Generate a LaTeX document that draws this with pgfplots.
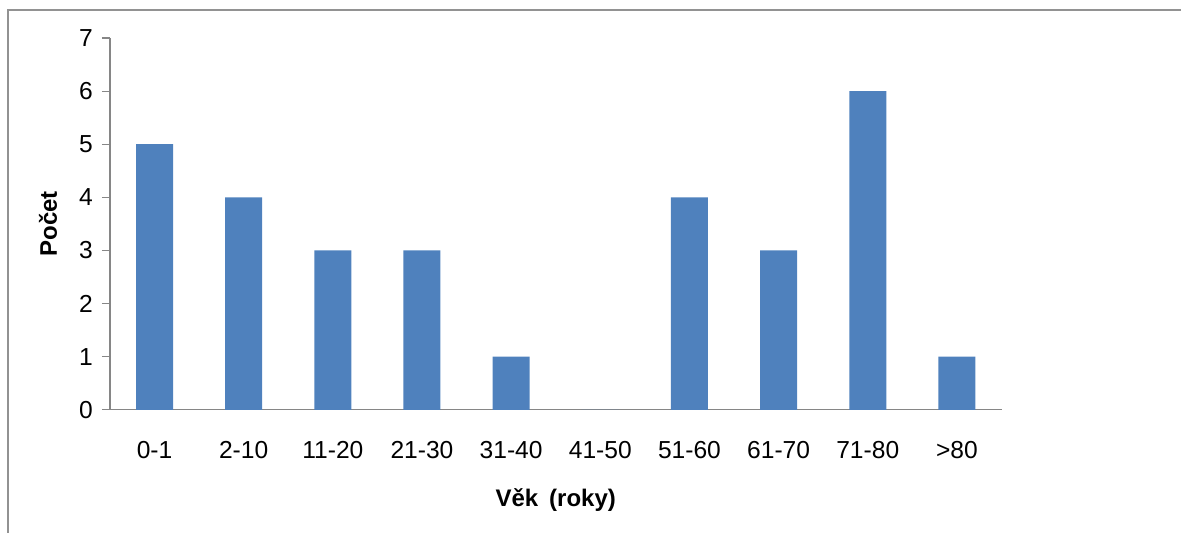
\documentclass[border=0pt]{standalone}
\usepackage{pgfplots}
\pgfplotsset{compat=1.18}
\usepackage{fontspec}
\setmainfont{Liberation Sans}
\definecolor{barblue}{HTML}{4F81BD}
\definecolor{axgray}{HTML}{868686}
\begin{document}
\begin{tikzpicture}
\path (0,0) rectangle (591pt,266.5pt);
\draw[color=axgray!90, line width=0.6pt] (4pt,0) -- (4pt,261.5pt) -- (591pt,261.5pt);
\begin{axis}[
  at={(55pt,61.5pt)}, anchor=south west,
  scale only axis, width=446pt, height=186pt,
  xmin=-0.5, xmax=9.5, ymin=0, ymax=7,
  axis lines*=left,
  axis line style={color=axgray, line width=0.6pt},
  ytick={0,...,7},
  xtick={0,...,9},
  xticklabels={0-1,2-10,11-20,21-30,31-40,41-50,51-60,61-70,71-80,>80},
  minor xtick={-0.5,0.5,...,9.5},
  xtick style={draw=none},
  minor x tick style={color=axgray, line width=0.6pt},
  ytick style={color=axgray, line width=0.6pt},
  tick align=outside,
  major tick length=4pt, minor tick length=4pt,
  tick label style={font=\fontsize{12.3}{14}\selectfont},
  /pgf/number format/assume math mode=true,
  xticklabel style={yshift=-8pt},
  yticklabel style={xshift=-1pt},
  xlabel={\textbf{Věk\hspace{5.5pt}(roky)}},
  ylabel={\textbf{Počet}},
  label style={font=\fontsize{12}{14}\selectfont},
  xlabel style={at={(axis description cs:0.5,-0.2608)}, anchor=base},
  ylabel style={at={(axis description cs:-0.0594,0.5)}, anchor=base, rotate=0},
  ybar, bar width=18.5pt,
  clip=false,
]
\addplot[fill=barblue, draw=none] coordinates {(0,5) (1,4) (2,3) (3,3) (4,1) (5,0) (6,4) (7,3) (8,6) (9,1)};
\end{axis}
\end{tikzpicture}
\end{document}
